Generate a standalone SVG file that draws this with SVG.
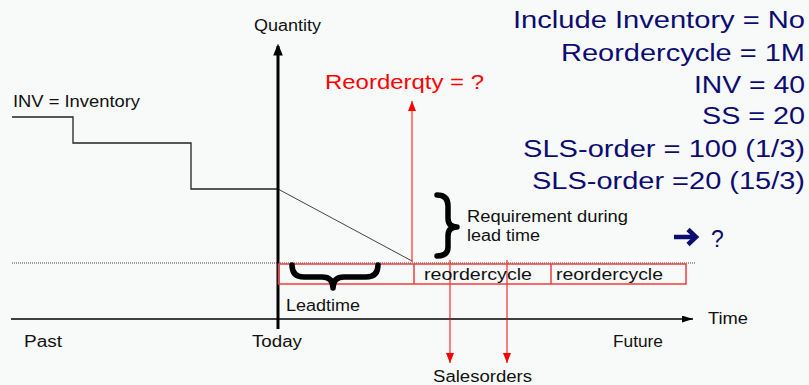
<svg xmlns="http://www.w3.org/2000/svg" width="809" height="385" viewBox="0 0 809 385">
<style>
text{font-family:"Liberation Sans",Arial,sans-serif;}
.s{font-size:16px;fill:#111;}
.big{font-size:23px;fill:#0c0c72;}
.red{font-size:21px;fill:#ff0000;}
.axis{stroke:#000;fill:none;}
.thin{stroke:#222;stroke-width:1.3;fill:none;}
.rl{stroke:#ff0000;stroke-width:1;fill:none;}
.brace{stroke:#000;stroke-width:5.5;fill:none;stroke-linecap:round;stroke-linejoin:round;}
</style>
<defs>
<marker id="ahY" markerWidth="12" markerHeight="15" refX="12" refY="6" orient="auto" markerUnits="userSpaceOnUse" viewBox="0 0 15 12">
<path d="M0,0 L15,6 L0,12 z" fill="#000"/>
</marker>
<marker id="ahX" markerWidth="11" markerHeight="7" refX="11" refY="3.5" orient="auto" markerUnits="userSpaceOnUse" viewBox="0 0 11 7">
<path d="M0,0 L11,3.5 L0,7 z" fill="#000"/>
</marker>
<marker id="ahR" markerWidth="10" markerHeight="8" refX="10" refY="4" orient="auto" markerUnits="userSpaceOnUse" viewBox="0 0 10 8">
<path d="M0,0 L10,4 L0,8 z" fill="#ff0000"/>
</marker>
</defs>
<rect width="809" height="385" fill="#f7faf8"/>

<g id="connectors">
<line x1="12" y1="263" x2="695" y2="263" stroke="#444" stroke-width="1" stroke-dasharray="1,1"/>
<polyline class="thin" points="12,117 73,117 73,143 191,143 191,189 278,189"/>
<line x1="278" y1="189" x2="412" y2="261" stroke="#444" stroke-width="1"/>
<line class="axis" x1="278" y1="329" x2="278" y2="46" stroke-width="3" marker-end="url(#ahY)"/>
<line class="axis" x1="11" y1="319" x2="693" y2="319" stroke-width="1.6" marker-end="url(#ahX)"/>
<line class="rl" x1="412" y1="262" x2="412" y2="101" marker-end="url(#ahR)"/>
<line class="rl" x1="450" y1="260" x2="450" y2="363" marker-end="url(#ahR)"/>
<line class="rl" x1="507" y1="260" x2="507" y2="363" marker-end="url(#ahR)"/>
</g>

<g id="timeline">
<rect x="278.5" y="264" width="407.5" height="20" fill="none" stroke="#f03c3c" stroke-width="1.5"/>
<line x1="414" y1="264" x2="414" y2="284" stroke="#f03c3c" stroke-width="1.5"/>
<line x1="551" y1="264" x2="551" y2="284" stroke="#f03c3c" stroke-width="1.5"/>
<text class="s" x="424" y="280" textLength="108" lengthAdjust="spacingAndGlyphs">reordercycle</text>
<text class="s" x="556" y="280" textLength="107" lengthAdjust="spacingAndGlyphs">reordercycle</text>
</g>

<g id="leadtime-brace">
<path class="brace" d="M292,265 Q292,277 304,277 L322,277 Q333,277 333,288 Q333,277 344,277 L366,277 Q378,277 378,265"/>
<text class="s" x="286" y="311" textLength="74" lengthAdjust="spacingAndGlyphs">Leadtime</text>
</g>

<g id="requirement-brace">
<path class="brace" d="M437,195 Q448,195 448,206 L448,218 Q448,227 457,227 Q448,227 448,236 L448,247 Q448,256 437,256"/>
<text class="s" x="467" y="222" textLength="161" lengthAdjust="spacingAndGlyphs">Requirement during</text>
<text class="s" x="467" y="241" textLength="73" lengthAdjust="spacingAndGlyphs">lead time</text>
</g>

<g id="axis-labels">
<text class="s" x="254" y="31" textLength="67" lengthAdjust="spacingAndGlyphs">Quantity</text>
<text class="s" x="708" y="324" textLength="40" lengthAdjust="spacingAndGlyphs">Time</text>
<text class="s" x="24" y="347" textLength="38" lengthAdjust="spacingAndGlyphs">Past</text>
<text class="s" x="252" y="347" textLength="50" lengthAdjust="spacingAndGlyphs">Today</text>
<text class="s" x="613" y="347" textLength="50" lengthAdjust="spacingAndGlyphs">Future</text>
</g>

<g id="inventory-label">
<text class="s" x="13" y="107" textLength="127" lengthAdjust="spacingAndGlyphs">INV = Inventory</text>
</g>

<g id="reorderqty">
<text class="red" x="325" y="89" textLength="159" lengthAdjust="spacingAndGlyphs">Reorderqty = ?</text>
</g>

<g id="salesorders">
<text class="s" x="433" y="382" textLength="99" lengthAdjust="spacingAndGlyphs">Salesorders</text>
</g>

<g id="parameters">
<text class="big" x="513" y="28" textLength="292" lengthAdjust="spacingAndGlyphs">Include Inventory = No</text>
<text class="big" x="561" y="61" textLength="244" lengthAdjust="spacingAndGlyphs">Reordercycle = 1M</text>
<text class="big" x="694" y="93" textLength="111" lengthAdjust="spacingAndGlyphs">INV = 40</text>
<text class="big" x="702" y="124" textLength="103" lengthAdjust="spacingAndGlyphs">SS = 20</text>
<text class="big" x="523" y="157" textLength="282" lengthAdjust="spacingAndGlyphs">SLS-order = 100 (1/3)</text>
<text class="big" x="532" y="189" textLength="273" lengthAdjust="spacingAndGlyphs">SLS-order =20 (15/3)</text>
</g>

<g id="result">
<line x1="674" y1="237" x2="694" y2="237" stroke="#0c0c72" stroke-width="4.5"/>
<polyline points="688,229.5 696,237 688,244.5" fill="none" stroke="#0c0c72" stroke-width="4.5" stroke-linejoin="miter"/>
<text class="big" x="711" y="247">?</text>
</g>
</svg>
